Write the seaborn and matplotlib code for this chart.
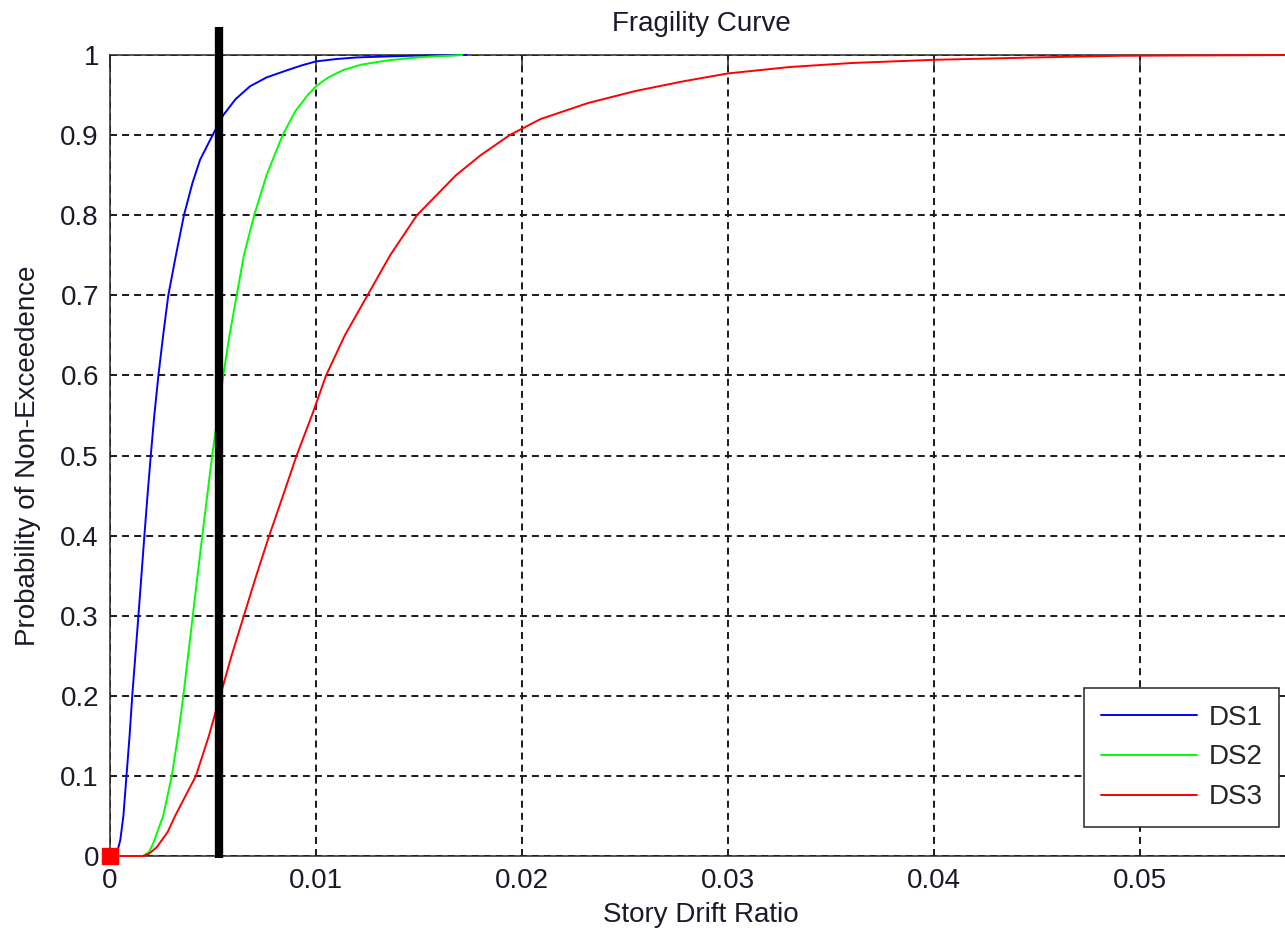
#!/usr/bin/env python3

import numpy as np
import pandas as pd
import matplotlib
matplotlib.use('Agg')
import matplotlib.pyplot as plt
import seaborn as sns

# Points (story drift ratio, probability)
ds1_x = [0.0, 0.0003, 0.0005, 0.00065, 0.0008, 0.00095, 0.00108, 0.00138, 0.00167,
         0.00182, 0.00198, 0.00215, 0.00235, 0.00258, 0.00283, 0.0032, 0.00359,
         0.0040, 0.00437, 0.00498, 0.0055, 0.0061, 0.0068, 0.0076, 0.0086, 0.0093,
         0.0100, 0.0110, 0.0120, 0.0145, 0.0173]
ds1_y = [0.0, 0.0, 0.02, 0.05, 0.10, 0.15, 0.20, 0.30, 0.40,
         0.45, 0.50, 0.55, 0.60, 0.65, 0.70, 0.75, 0.80,
         0.84, 0.869, 0.90, 0.925, 0.945, 0.961, 0.972, 0.981, 0.987,
         0.992, 0.995, 0.997, 0.999, 1.0]

ds2_x = [0.0, 0.0016, 0.0019, 0.0021, 0.00258, 0.0030, 0.0033, 0.00356, 0.00402,
         0.00448, 0.00496, 0.0055, 0.0058, 0.00615, 0.0065, 0.0070, 0.0076, 0.00838,
         0.0090, 0.0096, 0.0100, 0.0106, 0.0113, 0.0122, 0.0134, 0.0145, 0.0155,
         0.0171]
ds2_y = [0.0, 0.0, 0.005, 0.016, 0.05, 0.10, 0.15, 0.20, 0.30,
         0.40, 0.50, 0.60, 0.65, 0.70, 0.75, 0.80, 0.85, 0.90,
         0.93, 0.95, 0.961, 0.972, 0.981, 0.988, 0.993, 0.996, 0.998,
         1.0]

ds3_x = [0.0, 0.0016, 0.0019, 0.00227, 0.0028, 0.00316, 0.00417, 0.0048, 0.00535,
         0.0059, 0.0065, 0.0071, 0.00773, 0.0084, 0.00906, 0.0098, 0.01049, 0.0114,
         0.0125, 0.0136, 0.0149, 0.0168, 0.0180, 0.0194, 0.0209, 0.0232, 0.0255,
         0.0278, 0.0300, 0.0330, 0.0360, 0.0400, 0.0450, 0.0490, 0.0574]
ds3_y = [0.0, 0.0, 0.003, 0.011, 0.03, 0.05, 0.10, 0.15, 0.20,
         0.25, 0.30, 0.35, 0.40, 0.45, 0.50, 0.55, 0.60, 0.65,
         0.70, 0.75, 0.80, 0.85, 0.875, 0.90, 0.92, 0.94, 0.955,
         0.967, 0.977, 0.985, 0.990, 0.994, 0.997, 0.999, 1.0]

series_names = ['DS1', 'DS2', 'DS3']
series_colors = ['#0000ff', '#00ff00', '#ff0000']

x_ticks = [0.0, 0.01, 0.02, 0.03, 0.04, 0.05]
x_tick_labels = ['0', '0.01', '0.02', '0.03', '0.04', '0.05']
y_ticks = [0.0, 0.1, 0.2, 0.3, 0.4, 0.5, 0.6, 0.7, 0.8, 0.9, 1.0]
y_tick_labels = ['0', '0.1', '0.2', '0.3', '0.4', '0.5', '0.6', '0.7', '0.8', '0.9', '1']

vline_x = 0.00527
marker_x = [0.0]
marker_y = [0.0]

# Build a long table for seaborn
df = pd.concat([
    pd.DataFrame({'drift': ds1_x, 'prob': ds1_y, 'state': 'DS1'}),
    pd.DataFrame({'drift': ds2_x, 'prob': ds2_y, 'state': 'DS2'}),
    pd.DataFrame({'drift': ds3_x, 'prob': ds3_y, 'state': 'DS3'}),
], ignore_index=True)

sns.set_style('white')
plt.rcParams['font.family'] = ['Liberation Sans', 'DejaVu Sans']

fig = plt.figure(figsize=(12.85, 9.36), dpi=100)
ax = fig.add_axes([110 / 1285, 80 / 936, 1182 / 1285, 801 / 936])

sns.lineplot(data=df, x='drift', y='prob', hue='state', hue_order=series_names,
             palette=series_colors, estimator=None, sort=False, lw=1.4, ax=ax,
             zorder=3, clip_on=False)

# thick black marker line (pasted over the plot in the original)
ax.axvline(vline_x, ymin=-0.003, ymax=1.035, color='black', lw=6, clip_on=False,
           zorder=4, solid_capstyle='butt')
ax.plot(marker_x, marker_y, 's', color='#ff0000', ms=11, clip_on=False, zorder=5)

ax.set_xlim(0, 0.05738)
ax.set_ylim(0, 1)
ax.set_xticks(x_ticks)
ax.set_xticklabels(x_tick_labels)
ax.set_yticks(y_ticks)
ax.set_yticklabels(y_tick_labels)

ax.grid(True, color='#1a1a1a', linestyle=(0, (3.6, 2.6)), lw=1.4)
ax.set_axisbelow(True)
for s in ax.spines.values():
    s.set_color('#262626')
    s.set_linewidth(1.1)
    s.set_visible(True)
ax.tick_params(direction='in', length=9, width=1.1, top=True, right=True,
               labelsize=20, colors='#262626', labelcolor='#1a1a2a')
ax.tick_params(axis='x', pad=9)
ax.tick_params(axis='y', pad=8)

ax.set_xlabel('Story Drift Ratio', fontsize=20, color='#1a1a2a')
ax.set_ylabel('Probability of Non-Exceedence', fontsize=20, color='#1a1a2a')
ax.xaxis.set_label_coords(0.5, -0.058)
ax.yaxis.set_label_coords(-0.058, 0.5)
ax.set_title('Fragility Curve', fontsize=20, color='#1a1a2a', y=1.03, pad=0)

leg = ax.legend(loc='lower right', bbox_to_anchor=(0.989, 0.0362), borderaxespad=0,
                fontsize=20, handlelength=3.46, handletextpad=0.4, borderpad=0.6,
                labelspacing=0.5, fancybox=False, framealpha=1, edgecolor='#262626')
leg.get_frame().set_linewidth(1.1)
for line in leg.get_lines():
    line.set_linewidth(1.4)

fig.savefig('out.png', dpi=100)
